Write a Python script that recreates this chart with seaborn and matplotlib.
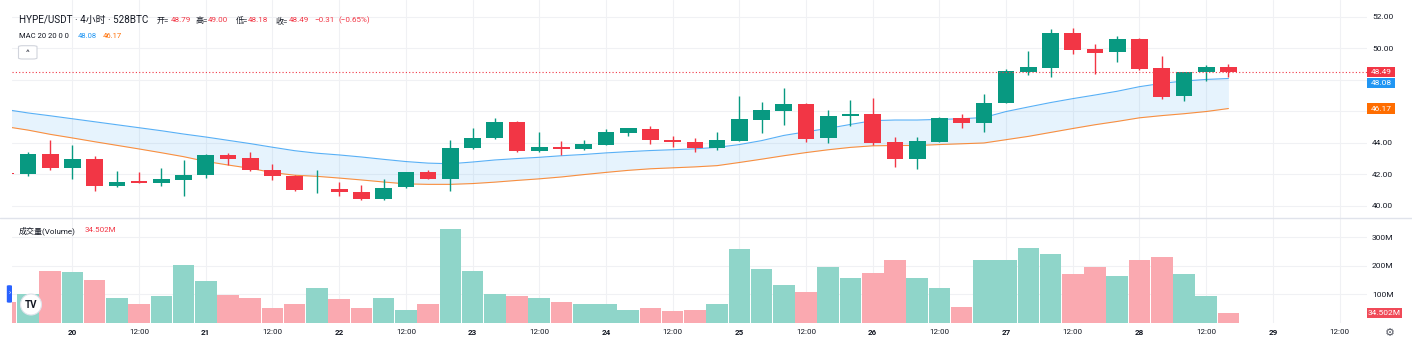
import numpy as np
import pandas as pd
import matplotlib
matplotlib.use("Agg")
import matplotlib.pyplot as plt
import seaborn as sns
from matplotlib.patches import Rectangle, FancyBboxPatch, Ellipse
from matplotlib.lines import Line2D

# ---------------- data (4h candles, 19 12:00 -> 28 16:00) ----------------
opens = [42.10, 42.00, 43.27, 42.41, 42.96, 41.27, 41.54, 41.46, 41.65, 41.95,
         43.22, 43.03, 42.26, 41.90, 41.03, 41.06, 40.88, 40.40, 41.16, 42.14,
         41.71, 43.64, 44.28, 45.31, 43.49, 43.73, 43.60, 43.87, 44.64, 44.89,
         44.17, 44.04, 43.66, 44.13, 45.44, 46.03, 46.48, 44.28, 45.68, 45.82,
         44.02, 42.94, 44.06, 45.55, 45.27, 46.54, 48.51, 48.77, 50.99, 49.96,
         49.75, 50.61, 48.75, 46.95, 48.47, 48.79]
highs = [42.15, 43.41, 44.17, 43.85, 43.15, 42.20, 42.12, 42.39, 42.90, 43.28,
         43.32, 43.41, 42.63, 41.96, 42.26, 41.50, 41.31, 41.69, 42.16, 42.26,
         44.17, 44.93, 45.55, 45.35, 44.68, 44.11, 44.17, 44.87, 44.95, 45.06,
         44.41, 44.28, 44.68, 46.97, 46.59, 47.46, 46.52, 46.08, 46.71, 46.82,
         44.34, 44.36, 45.63, 45.80, 47.08, 48.70, 49.83, 51.23, 51.27, 50.25,
         50.78, 50.65, 49.51, 48.50, 48.95, 49.00]
lows = [41.95, 41.86, 42.24, 41.71, 40.95, 41.20, 41.44, 41.25, 40.61, 41.75,
        42.58, 42.22, 41.63, 40.95, 40.82, 40.63, 40.38, 40.38, 41.14, 41.69,
        40.95, 43.62, 44.25, 43.43, 43.43, 43.22, 43.55, 43.85, 44.41, 43.94,
        43.74, 43.43, 43.51, 44.11, 44.64, 45.14, 44.06, 44.00, 45.06, 43.85,
        42.47, 42.35, 44.04, 44.91, 44.70, 46.52, 48.30, 48.19, 49.66, 48.35,
        49.13, 48.62, 46.80, 46.67, 47.90, 48.18]
closes = [42.00, 43.27, 42.41, 42.96, 41.23, 41.50, 41.46, 41.69, 41.95, 43.22,
          42.96, 42.24, 41.88, 41.01, 41.06, 40.86, 40.40, 41.14, 42.12, 41.71,
          43.66, 44.30, 45.31, 43.49, 43.73, 43.60, 43.92, 44.66, 44.91, 44.17,
          44.04, 43.66, 44.17, 45.51, 46.06, 46.48, 44.23, 45.68, 45.82, 43.98,
          42.98, 44.11, 45.55, 45.27, 46.54, 48.54, 48.81, 50.99, 49.91, 49.72,
          50.61, 48.70, 46.92, 48.49, 48.79, 48.49]
volumes_m = [73, 100, 180, 177, 149, 86, 65, 93, 202, 146,
             96, 87, 50, 65, 121, 82, 52, 88, 45, 66,
             328, 181, 101, 95, 86, 74, 65, 66, 46, 52,
             41, 46, 66, 258, 187, 132, 107, 195, 158, 174,
             219, 156, 121, 54, 219, 219, 261, 240, 172, 195,
             164, 219, 229, 170, 93, 34.502]
mac_upper = [46.11, 45.89, 45.71, 45.52, 45.33, 45.14, 44.95, 44.76, 44.55, 44.36,
             44.15, 43.94, 43.71, 43.49, 43.33, 43.22, 43.09, 42.94, 42.80, 42.70,
             42.66, 42.77, 42.90, 42.99, 43.07, 43.17, 43.25, 43.35, 43.43, 43.50,
             43.55, 43.61, 43.70, 43.88, 44.13, 44.46, 44.69, 44.91, 45.16, 45.40,
             45.44, 45.44, 45.48, 45.52, 45.60, 45.98, 46.27, 46.55, 46.80, 47.03,
             47.27, 47.56, 47.77, 47.92, 48.02, 48.08]
mac_lower = [45.02, 44.80, 44.53, 44.30, 44.06, 43.83, 43.60, 43.36, 43.11, 42.81,
             42.58, 42.37, 42.10, 41.93, 41.86, 41.75, 41.63, 41.50, 41.38, 41.35,
             41.35, 41.40, 41.49, 41.60, 41.70, 41.82, 41.97, 42.11, 42.24, 42.34,
             42.40, 42.46, 42.54, 42.74, 42.95, 43.17, 43.37, 43.55, 43.70, 43.80,
             43.82, 43.82, 43.88, 43.93, 43.98, 44.19, 44.40, 44.65, 44.90, 45.14,
             45.35, 45.58, 45.72, 45.84, 45.98, 46.17]
tick_labels = ["20", "12:00", "21", "12:00", "22", "12:00", "23", "12:00",
               "24", "12:00", "25", "12:00", "26", "12:00", "27", "12:00",
               "28", "12:00", "29", "12:00"]
price_ticks = [40, 42, 44, 46, 48, 50, 52]
price_tick_labels = ["40.00", "42.00", "44.00", "", "", "50.00", "52.00"]
vol_ticks = [100, 200, 300]
vol_tick_labels = ["100M", "200M", "300M"]

# ---------------- style ----------------
UP, DN = "#089981", "#f23645"
UPV, DNV = "#8fd5c9", "#faa9b0"
BLUE, ORANGE = "#2196f3", "#ff6d00"
TXT = "#131722"
GRID = "#f0f1f4"

sns.set_theme(style="white")
plt.rcParams["font.family"] = ["Roboto", "Noto Sans CJK SC", "DejaVu Sans"]

W, H = 1412, 342
fig = plt.figure(figsize=(W / 100, H / 100), dpi=100)
fig.patch.set_facecolor("white")


def fx(px):
    return px / W


def fy(py):
    return 1 - py / H


L, R = 12.0, 1366.7
PT, PB, VB = 0.0, 217.7, 322.7
axp = fig.add_axes([fx(L), fy(PB), (R - L) / W, (PB - PT) / H])
axv = fig.add_axes([fx(L), fy(VB), (R - L) / W, (VB - PB) / H])

n = len(opens)
idx = np.arange(n)
o, h, l, c = map(np.array, (opens, highs, lows, closes))
is_up = c >= o
ccol = np.where(is_up, UP, DN)

XL = (0.283, 61.22)
PY = (39.23, 53.07)
VY = (0, 368.4)
tick_idx = list(range(3, 61, 3))

# ---------------- price pane ----------------
axp.fill_between(idx, mac_lower, mac_upper, color=BLUE, alpha=0.11, lw=0, zorder=1)
sns.lineplot(x=idx, y=mac_upper, ax=axp, color=BLUE, lw=0.8, alpha=0.75, zorder=2)
sns.lineplot(x=idx, y=mac_lower, ax=axp, color=ORANGE, lw=0.8, alpha=0.75, zorder=2)
axp.vlines(idx, l, h, colors=ccol, lw=1.0, zorder=3)
body_h = np.maximum(np.abs(c - o), 0.04)
axp.bar(idx, body_h, bottom=np.minimum(o, c), width=0.75, color=ccol, lw=0, zorder=4)
axp.axhline(closes[-1], color=DN, lw=0.8, ls=(0, (1, 2)), zorder=5)

axp.set_xlim(*XL)
axp.set_ylim(*PY)
axp.set_xticks(tick_idx)
axp.set_yticks(price_ticks)
axp.set_yticklabels(price_tick_labels)
axp.grid(True, color=GRID, lw=0.8)
axp.tick_params(axis="x", labelbottom=False, length=0)
axp.tick_params(axis="y", left=False, labelleft=False, right=False, labelright=True,
                length=0, pad=3.8, labelsize=6, labelcolor=TXT)
for s in axp.spines.values():
    s.set_visible(False)
axp.set_xlabel("")
axp.set_ylabel("")

# ---------------- volume pane ----------------
vdf = pd.DataFrame({"i": idx, "vol": volumes_m,
                    "dir": np.where(is_up, "up", "down")})
sns.barplot(data=vdf, x="i", y="vol", hue="dir", palette={"up": UPV, "down": DNV},
            native_scale=True, dodge=False, width=0.97, errorbar=None,
            saturation=1, legend=False, lw=0, ax=axv, zorder=3)
axv.set_xlim(*XL)
axv.set_ylim(*VY)
axv.set_xticks(tick_idx)
axv.set_xticklabels(tick_labels)
for t, lab in zip(axv.get_xticklabels(), tick_labels):
    if ":" not in lab:
        t.set_fontweight("bold")
axv.set_yticks(vol_ticks)
axv.set_yticklabels(vol_tick_labels)
axv.grid(True, color=GRID, lw=0.8)
axv.set_axisbelow(True)
axv.tick_params(axis="x", length=0, pad=4.3, labelsize=5.8, labelcolor=TXT)
axv.tick_params(axis="y", left=False, labelleft=False, right=False, labelright=True,
                length=0, pad=3.8, labelsize=6, labelcolor=TXT)
for s in axv.spines.values():
    s.set_visible(False)
axv.set_xlabel("")
axv.set_ylabel("")

# pane separator
fig.add_artist(Line2D([0, 1], [fy(PB), fy(PB)], transform=fig.transFigure,
                      color="#e0e3eb", lw=1.0))


# ---------------- right-axis value tags ----------------
def price_px(v):
    return PT + (PY[1] - v) / (PY[1] - PY[0]) * (PB - PT)


def vol_px(v):
    return VB - (v - VY[0]) / (VY[1] - VY[0]) * (VB - PB)


def tag(ycen, text, color, w=28.6, hh=10.4):
    fig.add_artist(Rectangle((fx(R), fy(ycen + hh / 2)), w / W, hh / H,
                             transform=fig.transFigure, color=color, lw=0))
    fig.text(fx(R + w / 2), fy(ycen), text, color="white", fontsize=6,
             ha="center", va="center")


y_close = price_px(closes[-1])
y_up = max(price_px(mac_upper[-1]), y_close + 10.8)
y_lo = price_px(mac_lower[-1])
tag(y_close, f"{closes[-1]:.2f}", DN)
tag(y_up, f"{mac_upper[-1]:.2f}", BLUE)
tag(y_lo, f"{mac_lower[-1]:.2f}", ORANGE)
tag(vol_px(volumes_m[-1]), f"{volumes_m[-1]:.3f}M", "#f04a58", w=35, hh=9.6)

# ---------------- header texts ----------------
def ftxt(x, y, s, color=TXT, size=5.8, **kw):
    fig.text(fx(x), fy(y), s, color=color, fontsize=size, ha="left", va="center", **kw)


ftxt(19, 20, "HYPE/USDT · 4小时 · 528BTC", size=7.1)
ftxt(156.7, 20.5, "开=", size=5.8)
ftxt(170.7, 20.5, f"{opens[-1]:.2f}", DN, 5.8)
ftxt(196.0, 20.5, "高=", size=5.8)
ftxt(208.0, 20.5, f"{highs[-1]:.2f}", DN, 5.8)
ftxt(236.0, 20.5, "低=", size=5.8)
ftxt(248.3, 20.5, f"{lows[-1]:.2f}", DN, 5.8)
ftxt(275.3, 20.5, "收=", size=5.8)
ftxt(288.7, 20.5, f"{closes[-1]:.2f}", DN, 5.8)
ftxt(314.3, 20.5, "−0.31", DN, 5.8)
ftxt(338.3, 20.5, "(−0.65%)", DN, 5.8)
ftxt(19, 35.5, "MAC 20 20 0 0", size=5.5)
ftxt(77.5, 35.5, f"{mac_upper[-1]:.2f}", BLUE, 5.5)
ftxt(103.2, 35.5, f"{mac_lower[-1]:.2f}", ORANGE, 5.5)
ftxt(19, 230.5, "成交量(Volume)", size=5.8)
ftxt(84.3, 230.5, f"{volumes_m[-1]:.3f}M", DN, 5.8)

# ---------------- small UI decorations ----------------
fig.add_artist(FancyBboxPatch((fx(18.5), fy(59)), 18.5 / W, 13.3 / H,
                              boxstyle="round,pad=0,rounding_size=0.003",
                              transform=fig.transFigure, fc="white", ec="#d1d4dc", lw=0.8))
fig.text(fx(27.8), fy(52.5), "^", fontsize=6, color="#50535e", ha="center", va="center",
         fontweight="bold")
fig.add_artist(FancyBboxPatch((fx(6.8), fy(302.7)), 5.2 / W, 17.5 / H,
                              boxstyle="round,pad=0,rounding_size=0.002",
                              transform=fig.transFigure, fc="#2962ff", ec="none"))
fig.text(fx(9.4), fy(294), "›", fontsize=5, color="white", ha="center", va="center")
fig.add_artist(Ellipse((fx(31), fy(304.5)), 21 / W, 21 / H, transform=fig.transFigure,
                       fc="white", ec="#e0e3eb", lw=0.8, zorder=10))
fig.text(fx(31), fy(304.5), "TV", fontsize=7, color=TXT, ha="center", va="center",
         fontweight="bold", zorder=11)
fig.text(fx(1389.5), fy(332.5), "⚙", fontsize=8, color="#50535e", ha="center",
         va="center", family="DejaVu Sans")

fig.savefig("out.png", dpi=100, facecolor="white")
